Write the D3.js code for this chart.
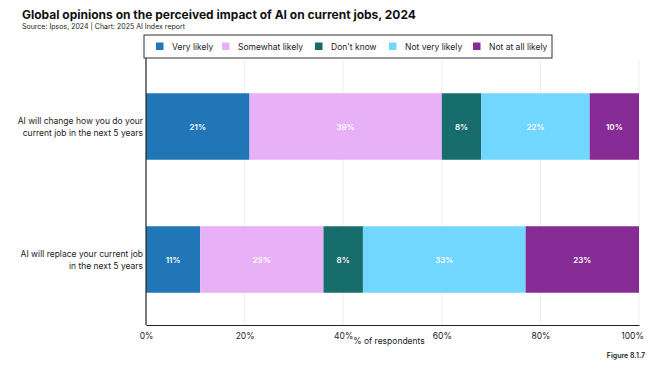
<!DOCTYPE html>
<html><head><meta charset="utf-8">
<script src="https://cdn.jsdelivr.net/npm/d3@7/dist/d3.min.js"></script>
<style>body{margin:0;background:#fff;font-family:"Inter","Liberation Sans",sans-serif;}</style>
</head><body><svg id="c" width="660" height="370"></svg>
<script>
const categories = ["AI will change how you do your|current job in the next 5 years", "AI will replace your current job|in the next 5 years"];
const seriesNames = ["Very likely", "Somewhat likely", "Don't know", "Not very likely", "Not at all likely"];
const colors = ["#2176b8", "#e8b1f7", "#176d6b", "#72d7fe", "#862b95"];
const values = [
  [21, 39, 8, 22, 10],
  [11, 25, 8, 33, 23]
];
const tickValues = [0, 20, 40, 60, 80, 100];

const svg = d3.select("#c");
const x = d3.scaleLinear().domain([0, 100]).range([146, 639]);
const y = d3.scaleBand().domain(d3.range(categories.length)).range([60, 326]).paddingInner(0.5).paddingOuter(0.25);

svg.append("text").attr("x", 22).attr("y", 19).attr("font-size", 12).attr("font-weight", 700).attr("fill", "#111")
  .text("Global opinions on the perceived impact of AI on current jobs, 2024");
svg.append("text").attr("x", 22).attr("y", 29).attr("font-size", 7).attr("fill", "#222")
  .text("Source: Ipsos, 2024 | Chart: 2025 AI Index report");

// grid
svg.append("g").selectAll("line").data(tickValues.slice(1)).join("line")
  .attr("x1", d => x(d)).attr("x2", d => x(d)).attr("y1", 60).attr("y2", 325)
  .attr("stroke", "#eee").attr("stroke-width", 1);

// bars
values.forEach((row, i) => {
  let acc = 0;
  row.forEach((v, j) => {
    const x0 = acc; acc += v;
    svg.append("rect").attr("x", x(x0)).attr("width", x(acc) - x(x0))
      .attr("y", y(i)).attr("height", y.bandwidth()).attr("fill", colors[j]);
    svg.append("text").attr("x", (x(x0) + x(acc)) / 2).attr("y", y(i) + y.bandwidth() / 2 + 3)
      .attr("text-anchor", "middle").attr("font-size", 8).attr("font-weight", 600).attr("fill", "#fff")
      .text(v + "%");
  });
  const lines = categories[i].split("|");
  const t = svg.append("text").attr("text-anchor", "end").attr("font-size", 8.5).attr("fill", "#222");
  lines.forEach((l, k) => {
    t.append("tspan").attr("x", 143).attr("y", y(i) + y.bandwidth() / 2 - 3 + k * 12).text(l);
  });
});

// axes
const xa = svg.append("g").attr("transform", "translate(0,325)")
  .call(d3.axisBottom(x).tickValues(tickValues).tickSize(0).tickFormat(d => d + "%"));
xa.select(".domain").attr("stroke", "#222").attr("stroke-width", 1.2);
xa.selectAll("text").attr("font-size", 8.5).attr("fill", "#222").attr("dy", "1.25em").attr("font-family", "Inter, sans-serif");
xa.selectAll(".tick").filter(d => d === 100).select("text").attr("dx", -7);
svg.append("line").attr("x1", 146).attr("x2", 146).attr("y1", 58).attr("y2", 325).attr("stroke", "#222").attr("stroke-width", 1.2);

svg.append("text").attr("x", 389).attr("y", 344).attr("text-anchor", "middle").attr("font-size", 8.5).attr("fill", "#222").text("% of respondents");
svg.append("text").attr("x", 645).attr("y", 358).attr("text-anchor", "end").attr("font-size", 7).attr("font-weight", 600).attr("fill", "#222").text("Figure 8.1.7");

// legend
svg.append("rect").attr("x", 144).attr("y", 35).attr("width", 408).attr("height", 23).attr("fill", "#fff").attr("stroke", "#333").attr("stroke-width", 1);
const legX = [156, 222, 315, 389, 473];
seriesNames.forEach((n, j) => {
  svg.append("rect").attr("x", legX[j]).attr("y", 42.5).attr("width", 7.5).attr("height", 7.5).attr("fill", colors[j]);
  svg.append("text").attr("x", legX[j] + 16).attr("y", 49.5).attr("font-size", 8.5).attr("fill", "#222").text(n);
});
</script></body></html>
